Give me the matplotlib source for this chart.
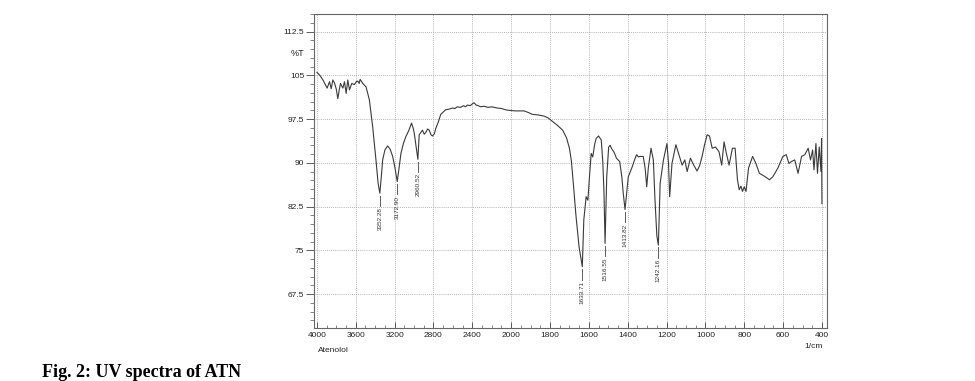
import numpy as np
import matplotlib
matplotlib.use("Agg")
import matplotlib.pyplot as plt
from matplotlib.ticker import FixedLocator

wavenumber = [4000, 3970, 3938, 3905, 3895, 3870, 3853, 3836, 3819, 3800, 3785, 3770,
              3757, 3733, 3716, 3699, 3682, 3665, 3641, 3614, 3595, 3579, 3565, 3555,
              3528, 3494, 3460, 3426, 3392, 3370, 3352.28, 3335, 3323, 3300, 3272, 3245,
              3220, 3195, 3172.90, 3155, 3135, 3110, 3084, 3055, 3026, 3010, 2998, 2980,
              2960.52, 2947, 2930, 2913, 2895, 2879, 2860, 2844, 2825, 2810, 2790, 2776,
              2750, 2725, 2700, 2674, 2640, 2600, 2580, 2554, 2520, 2490, 2470, 2451,
              2420, 2400, 2383, 2360, 2340, 2315, 2280, 2240, 2200, 2144, 2100, 2060,
              2024, 1980, 1934, 1910, 1891, 1860, 1830, 1810, 1787, 1761, 1735, 1715,
              1700, 1690, 1680, 1666, 1650, 1633.71, 1626, 1614, 1605, 1596, 1588, 1580,
              1570, 1562, 1550, 1536, 1528, 1522, 1516.55, 1508, 1498, 1490, 1484, 1470,
              1458, 1441, 1430, 1423, 1413.82, 1405, 1397, 1377, 1365, 1354, 1345, 1337,
              1320, 1310, 1302, 1294, 1280, 1268, 1260, 1250, 1242.16, 1233, 1216, 1198,
              1190, 1184, 1172, 1160, 1152, 1138, 1128, 1120, 1106, 1094, 1077, 1060,
              1043, 1030, 1017, 1005, 991, 979, 965, 948, 930, 916, 904, 892,
              878, 861, 847, 835, 826, 817, 809, 800, 791, 778, 757, 740,
              722, 696, 670, 653, 627, 601, 584, 570, 558, 540, 523, 505,
              488, 471, 459, 448, 441, 431, 423, 414, 405, 402, 400]
transmittance = [105.5, 105.0, 104.2, 103.1, 102.8, 103.9, 102.7, 104.2, 103.7, 102.6, 101.0, 102.5,
                 103.6, 102.8, 103.9, 101.9, 104.2, 102.5, 103.6, 103.4, 103.9, 104.0, 103.6, 104.3,
                 103.6, 103.0, 100.8, 96.2, 90.5, 86.5, 84.8, 88.0, 90.5, 92.2, 92.9, 92.3,
                 91.1, 89.0, 86.8, 89.0, 91.6, 93.3, 94.5, 95.5, 96.8, 96.0, 95.1, 93.0,
                 90.6, 94.8, 95.2, 95.6, 94.9, 95.2, 95.8, 95.6, 94.8, 94.6, 95.0, 95.9,
                 97.0, 98.3, 98.7, 99.1, 99.2, 99.4, 99.3, 99.6, 99.5, 99.8, 99.6, 99.9,
                 99.8, 100.1, 100.3, 99.9, 99.8, 99.6, 99.7, 99.5, 99.6, 99.4, 99.3, 99.1,
                 99.0, 98.9, 98.9, 98.6, 98.3, 98.2, 98.0, 97.7, 97.1, 96.4, 95.6, 94.3,
                 92.5, 90.3, 86.5, 80.8, 75.5, 72.2, 80.2, 84.2, 83.6, 88.0, 91.6, 91.0,
                 93.2, 94.2, 94.6, 93.9, 90.0, 84.8, 76.2, 87.6, 92.7, 93.0, 92.5, 91.8,
                 90.8, 90.2, 87.5, 84.8, 82.0, 85.0, 87.6, 89.3, 90.5, 91.4, 91.0, 91.1,
                 91.1, 89.0, 85.9, 89.1, 92.5, 90.5, 84.0, 77.5, 75.9, 86.5, 90.5, 93.3,
                 90.0, 84.2, 89.9, 91.8, 93.1, 91.6, 90.5, 89.6, 90.5, 88.5, 90.8, 89.6,
                 88.6, 89.5, 91.1, 93.0, 94.8, 94.6, 92.5, 92.7, 91.9, 89.6, 93.6, 91.6,
                 89.6, 92.5, 92.5, 87.1, 85.4, 86.0, 85.1, 85.9, 85.1, 89.1, 91.1, 89.9,
                 88.2, 87.7, 87.1, 87.6, 89.1, 91.1, 91.4, 89.9, 90.2, 90.5, 88.2, 91.1,
                 91.4, 92.5, 90.5, 92.2, 88.8, 93.3, 88.2, 92.7, 88.5, 94.2, 83.0]

# picos marcados
peak_wn = [3352.28, 3172.90, 2960.52, 1633.71, 1516.55, 1413.82, 1242.16]
peak_t = [84.8, 86.8, 90.6, 72.2, 76.2, 82.0, 75.9]

x_ticks = [4000, 3600, 3200, 2800, 2400, 2000, 1800, 1600, 1400, 1200, 1000, 800, 600, 400]
y_ticks = [67.5, 75, 82.5, 90, 97.5, 105, 112.5]


def fwd(w):
    w = np.asarray(w, dtype=float)
    return np.where(w <= 2000, w, 2000 + (w - 2000) / 2.0)


def inv(t):
    t = np.asarray(t, dtype=float)
    return np.where(t <= 2000, t, 2000 + 2.0 * (t - 2000))


fig = plt.figure(figsize=(9.75, 3.81), dpi=100)
ax = fig.add_axes([314 / 975, 53 / 381, 513 / 975, 314 / 381])
ax.set_xscale('function', functions=(fwd, inv))

ax.plot(wavenumber, transmittance, color='#3a3a3a', lw=0.8)

# etiquetas de picos
for w, t in zip(peak_wn, peak_t):
    ax.plot([w, w], [t - 0.4, t - 2.2], color='#444444', lw=0.6)
    ax.text(w, t - 2.4, f"{w:.2f}", rotation=90, ha='center', va='top',
            fontsize=4.6, color='#333333', family='Liberation Sans')

ax.set_xlim(4030, 374)
ax.set_ylim(61.7, 115.5)

ax.xaxis.set_major_locator(FixedLocator(x_ticks))
minor_x = list(range(3900, 2000, -100)) + list(range(1950, 400, -50))
ax.xaxis.set_minor_locator(FixedLocator(minor_x))
ax.set_xticklabels([str(v) for v in x_ticks])
ax.yaxis.set_major_locator(FixedLocator(y_ticks))
ax.yaxis.set_minor_locator(FixedLocator(np.arange(63, 115.6, 1.5)))
ax.set_yticklabels([f"{v:g}" for v in y_ticks])

ax.tick_params(axis='x', which='major', direction='in', length=4, width=0.6,
               labelsize=6, colors='#444444', labelcolor='#222222', pad=3)
ax.tick_params(axis='x', which='minor', direction='in', length=2.5, width=0.5, colors='#555555')
ax.tick_params(axis='y', which='major', direction='out', length=6, width=0.6,
               labelsize=6, colors='#444444', labelcolor='#222222', pad=1)
ax.tick_params(axis='y', which='minor', direction='out', length=3, width=0.5, colors='#555555')
for lab in ax.get_xticklabels() + ax.get_yticklabels():
    lab.set_family('Liberation Sans')

ax.grid(True, which='major', ls=(0, (1, 1.5)), color='#9a9a9a', lw=0.6)
for s in ax.spines.values():
    s.set_color('#666666')
    s.set_linewidth(0.8)

fig.text(297 / 975, 1 - 53 / 381, "%T", fontsize=6.5, ha='center', va='center',
         family='Liberation Sans', color='#222222')
fig.text(318 / 975, 1 - 351 / 381, "Atenolol", fontsize=6, ha='left', va='center',
         family='Liberation Sans', color='#222222')
fig.text(814 / 975, 1 - 346 / 381, "1/cm", fontsize=6, ha='center', va='center',
         family='Liberation Sans', color='#222222')

fig.text(42 / 975, 1 - 377 / 381, "Fig. 2: UV spectra of ATN", fontsize=13,
         fontweight='bold', family='Liberation Serif', ha='left', va='baseline')

plt.savefig("out.png", dpi=100)
